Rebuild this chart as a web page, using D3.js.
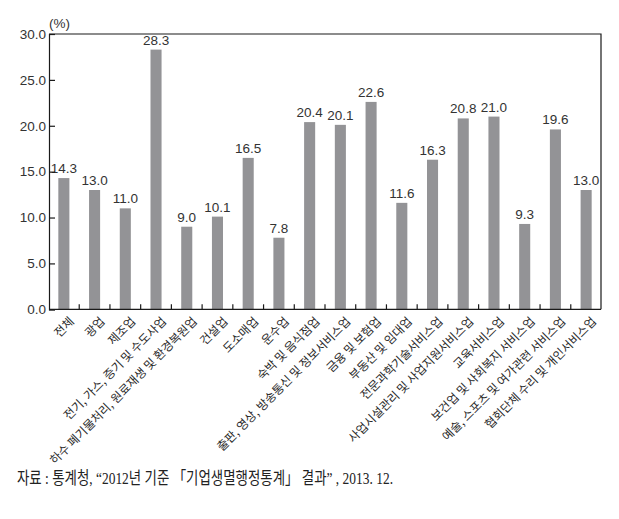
<!DOCTYPE html>
<html>
<head>
<meta charset="utf-8">
<script src="https://cdn.jsdelivr.net/npm/d3@7"></script>
<style>
  html, body { margin: 0; padding: 0; background: #fff; }
  svg { display: block; }
</style>
</head>
<body>
<svg id="chart" width="619" height="519"></svg>
<script>
const categories = [
  "전체", "광업", "제조업", "전기, 가스, 증기 및 수도사업",
  "하수 폐기물처리, 원료재생 및 환경복원업", "건설업", "도소매업", "운수업",
  "숙박 및 음식점업", "출판, 영상, 방송통신 및 정보서비스업", "금융 및 보험업",
  "부동산 및 임대업", "전문과학기술서비스업", "사업시설관리 및 사업지원서비스업",
  "교육서비스업", "보건업 및 사회복지 서비스업", "예술, 스포츠 및 여가관련 서비스업",
  "협회단체 수리 및 개인서비스업"
];
const values = [14.3, 13.0, 11.0, 28.3, 9.0, 10.1, 16.5, 7.8, 20.4, 20.1, 22.6, 11.6, 16.3, 20.8, 21.0, 9.3, 19.6, 13.0];
const yTicks = [0, 5, 10, 15, 20, 25, 30];
const unitLabel = "(%)";
const sourceText = "자료 : 통계청, “2012년 기준 「기업생멸행정통계」 결과” , 2013. 12.";

(function () {
const svg = d3.select("#chart");
const mLeft = 49, mRight = 601, mTop = 34, mBottom = 309.3;

const x = d3.scaleBand().domain(categories).range([48.5, 601.5]).paddingInner(0.64).paddingOuter(0.32);
const y = d3.scaleLinear().domain([0, 30]).range([mBottom, mTop]);
const step = x.step();

const axisColor = "#1a1a1a";
const textColor = "#333";

// bars
svg.append("g").selectAll("rect").data(values).join("rect")
  .attr("x", (d, i) => x(categories[i]))
  .attr("y", d => y(d))
  .attr("width", x.bandwidth())
  .attr("height", d => y(0) - y(d))
  .attr("fill", "#939396");

// value labels
svg.append("g").selectAll("text").data(values).join("text")
  .attr("x", (d, i) => x(categories[i]) + x.bandwidth() / 2)
  .attr("y", d => y(d) - 5)
  .attr("text-anchor", "middle")
  .attr("font-family", "'Liberation Sans', Arial, sans-serif")
  .attr("font-size", 13.5)
  .attr("fill", textColor)
  .text(d => d.toFixed(1));

// y axis
const yAxis = svg.append("g").attr("transform", `translate(${mLeft},0)`)
  .call(d3.axisLeft(y).tickValues(yTicks).tickSize(-6).tickPadding(3).tickFormat(d3.format(".1f")));
yAxis.select(".domain").attr("stroke", axisColor).attr("stroke-width", 1.2);
yAxis.selectAll(".tick line").attr("stroke", axisColor).attr("stroke-width", 1.2);
yAxis.selectAll(".tick text").attr("font-family", "'Liberation Sans', Arial, sans-serif")
  .attr("font-size", 13.5).attr("fill", textColor);

// x axis
const xAxis = svg.append("g").attr("transform", `translate(0,${mBottom})`)
  .call(d3.axisBottom(x).tickSize(0).tickPadding(0));
xAxis.select(".domain").remove();
xAxis.selectAll(".tick text")
  .attr("text-anchor", "end")
  .attr("font-family", "'Noto Sans CJK KR', sans-serif")
  .attr("font-size", 12)
  .attr("fill", "#2a2a2a")
  .attr("y", 0).attr("dy", 0)
  .attr("transform", `translate(11,13) rotate(-45)`);

// bottom line
svg.append("line").attr("x1", mLeft).attr("x2", mRight).attr("y1", mBottom).attr("y2", mBottom)
  .attr("stroke", axisColor).attr("stroke-width", 1.2);
// boundary ticks
svg.append("g").selectAll("line").data(categories.slice(0, -1)).join("line")
  .attr("x1", d => x(d) + x.bandwidth() / 2 + step / 2)
  .attr("x2", d => x(d) + x.bandwidth() / 2 + step / 2)
  .attr("y1", mBottom).attr("y2", mBottom - 5)
  .attr("stroke", axisColor).attr("stroke-width", 1.2);
// frame top & right
svg.append("path")
  .attr("d", `M${mLeft},${mTop}H${mRight}V${mBottom}`)
  .attr("fill", "none").attr("stroke", axisColor).attr("stroke-width", 1.2);

// unit label
svg.append("text").attr("x", 49).attr("y", 28)
  .attr("font-family", "'Liberation Sans', Arial, sans-serif")
  .attr("font-size", 13.5).attr("fill", textColor).text(unitLabel);

// source
svg.append("text").attr("x", 17).attr("y", 484)
  .attr("font-family", "'Liberation Serif', 'Noto Sans CJK KR', serif")
  .attr("font-size", 17).attr("fill", "#222")
  .attr("textLength", 376).attr("lengthAdjust", "spacingAndGlyphs")
  .text(sourceText);
})();
</script>
</body>
</html>
